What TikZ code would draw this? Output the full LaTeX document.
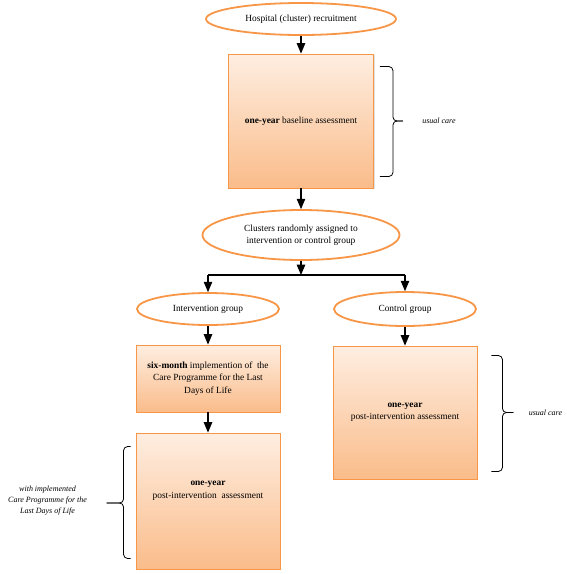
\documentclass[tikz,border=0pt]{standalone}
\usepackage{fontspec}
\setmainfont{Liberation Serif}
\usepackage{tikz}
\usetikzlibrary{positioning}
\usetikzlibrary{arrows}
\usetikzlibrary{shapes,shadows}
\definecolor{accorange}{RGB}{247,150,70}
\definecolor{peachtop}{RGB}{254,238,225}
\definecolor{peachbot}{RGB}{250,188,138}

\tikzset{
  stage/.style={ellipse,draw=accorange,line width=1.8pt,fill=white,
    align=center,inner sep=0pt,font=\fontsize{9.4}{11.5}\selectfont},
  phase/.style={rectangle,draw=accorange,line width=0.9pt,
    top color=peachtop,bottom color=peachbot,align=center,
    drop shadow={opacity=0.25,shadow xshift=1.2pt,shadow yshift=-1.2pt},
    font=\fontsize{9.4}{12.5}\selectfont},
  flow/.style={->,>=triangle 45,line width=1.4pt},
  bracket/.style={rounded corners=4pt,line width=0.8pt},
  care/.style={font=\itshape\fontsize{8}{11}\selectfont,align=center}
}

\begin{document}
\begin{tikzpicture}[x=1pt,y=1pt,node distance=2cm,on grid]
   \useasboundingbox (0,0) rectangle (567,-574);
   \node[stage,minimum width=190pt,minimum height=32pt] (hosp) at (301,-19)
      {Hospital (cluster) recruitment};
   \node[phase,minimum width=145pt,minimum height=134pt] (baseline) [below=102pt of hosp]
      {\textbf{one-year} baseline assessment};
   \node[stage,minimum width=197pt,minimum height=50pt] (clusters) [below=114pt of baseline]
      {Clusters randomly assigned to\\intervention or control group};
   \coordinate[below=40pt of clusters] (split);
   \node[stage,minimum width=142pt,minimum height=32pt] (intgrp) at (208,-309)
      {Intervention group};
   \node[stage,minimum width=142pt,minimum height=34pt] (ctrlgrp) at (405,-309)
      {Control group};
   \node[phase,minimum width=144pt,minimum height=67pt] (sixmonth) [below=69.5pt of intgrp]
      {\textbf{six-month} implemention of\ \ the\\Care Programme for the Last\\Days of Life};
   \node[phase,minimum width=144pt,minimum height=136pt] (intpost) [below=122.5pt of sixmonth]
      {\textbf{one-year}\\post-intervention\ \ assessment\\[10pt]};
   \node[phase,minimum width=144pt,minimum height=133pt] (ctrlpost) [below=103.5pt of ctrlgrp]
      {\textbf{one-year}\\post-intervention assessment};

   % flow of the study
   \draw[flow] (hosp) -- (baseline);
   \draw[flow] (baseline) -- (clusters);
   \draw[flow] (clusters) -- (split);
   \draw[line width=1.4pt] (intgrp.north |- split) -- (ctrlgrp.north |- split);
   \draw[flow] (intgrp.north |- split) -- (intgrp);
   \draw[flow] (ctrlgrp.north |- split) -- (ctrlgrp);
   \draw[flow] (intgrp) -- (sixmonth);
   \draw[flow] (sixmonth) -- (intpost);
   \draw[flow] (ctrlgrp) -- (ctrlpost);

   % braces
   \coordinate (a1) at ([xshift=6pt,yshift=-13pt]baseline.north east);
   \coordinate (a2) at ([xshift=6pt,yshift=12pt]baseline.south east);
   \coordinate (av) at ([xshift=19pt]baseline.east);
   \coordinate (tipA) at ([xshift=29pt]baseline.east);
   \draw[bracket] (a1) -| (av) -- (tipA);
   \draw[bracket] (a2) -| (av) -- (tipA);
   \node[care] (careA) at ([xshift=65pt]baseline.east) {usual care};

   \coordinate (b1) at ([xshift=14pt,yshift=-10pt]ctrlpost.north east);
   \coordinate (b2) at ([xshift=14pt,yshift=8pt]ctrlpost.south east);
   \coordinate (bv) at ([xshift=25pt]ctrlpost.east);
   \coordinate (tipB) at ([xshift=36pt]ctrlpost.east);
   \draw[bracket] (b1) -| (bv) -- (tipB);
   \draw[bracket] (b2) -| (bv) -- (tipB);
   \node[care] (careB) at ([xshift=68pt]ctrlpost.east) {usual care};

   \coordinate (c1) at ([xshift=-5pt,yshift=-14pt]intpost.north west);
   \coordinate (c2) at ([xshift=-5pt,yshift=11pt]intpost.south west);
   \coordinate (cv) at ([xshift=-12pt,yshift=-2pt]intpost.west);
   \coordinate (tipC) at ([xshift=-29pt,yshift=-2pt]intpost.west);
   \draw[bracket] (c1) -| (cv) -- (tipC);
   \draw[bracket] (c2) -| (cv) -- (tipC);
   \node[care] (careC) at ([xshift=-88pt]intpost.west)
      {with implemented\\Care Programme for the\\Last Days of Life};
\end{tikzpicture}
\end{document}
